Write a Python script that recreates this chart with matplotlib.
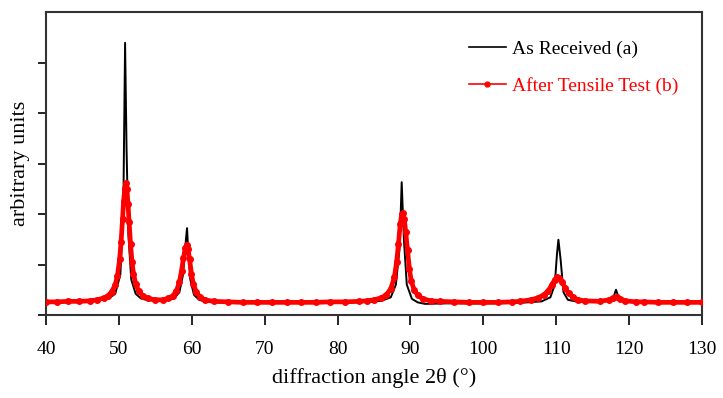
import numpy as np
import matplotlib.pyplot as plt
from matplotlib.lines import Line2D

'''
XRD pattern: as received vs after tensile test
'''

# As Received (a)
angle_a = [40, 45, 47, 48.5, 49.5, 50.2, 50.6, 50.85, 51.05, 51.3, 51.7, 52.3, 53, 54, 56,
           57.5, 58.3, 58.8, 59.2, 59.35, 59.5, 59.8, 60.3, 61, 62, 65, 70, 75, 80, 84, 86,
           87.3, 88.0, 88.5, 88.8, 89.1, 89.5, 90.2, 91, 92, 95, 100, 105, 108, 109.2, 109.8,
           110.1, 110.3, 110.6, 111, 111.6, 113, 116, 117.8, 118.2, 118.6, 120, 125, 130]
counts_a = [0.25, 0.26, 0.28, 0.32, 0.42, 0.8, 2.0, 5.39, 3.3, 1.6, 0.7, 0.42, 0.33, 0.29, 0.28,
            0.32, 0.45, 0.8, 1.5, 1.72, 1.3, 0.7, 0.4, 0.3, 0.26, 0.24, 0.24, 0.24, 0.25, 0.26, 0.28,
            0.35, 0.6, 1.3, 2.63, 1.5, 0.6, 0.32, 0.25, 0.22, 0.23, 0.23, 0.24, 0.27, 0.35, 0.6,
            1.2, 1.49, 1.1, 0.45, 0.3, 0.26, 0.27, 0.33, 0.5, 0.33, 0.26, 0.24, 0.24]

# After Tensile Test (b)
angle_b = [40, 41.5, 43, 44.5, 46, 47, 48, 48.5, 49, 49.5, 49.8, 50.1, 50.3, 50.5, 50.65,
           50.8, 50.95, 51.1, 51.25, 51.4, 51.6, 51.8, 52.0, 52.3, 52.7, 53.3, 54, 55, 56,
           56.8, 57.4, 57.9, 58.3, 58.6, 58.85, 59.1, 59.3, 59.5, 59.7, 59.95, 60.2, 60.6,
           61.1, 61.8, 63, 65, 67, 69, 71, 73, 75, 77, 79, 81, 83, 84, 85, 86, 86.7, 87.3,
           87.8, 88.1, 88.35, 88.6, 88.8, 88.95, 89.15, 89.35, 89.6, 89.85, 90.1, 90.5, 91,
           91.7, 92.8, 94, 96, 98, 100, 102, 104, 105, 106.5, 107.5, 108.3, 108.9, 109.4,
           109.8, 110.1, 110.4, 110.8, 111.2, 111.7, 112.3, 113, 114, 116, 117.2, 117.8,
           118.3, 118.8, 119.5, 121, 122, 124, 126, 128, 130]
counts_b = [0.26, 0.26, 0.27, 0.27, 0.28, 0.3, 0.34, 0.38, 0.46, 0.6, 0.78, 1.1, 1.45, 1.9,
            2.25, 2.5, 2.61, 2.5, 2.2, 1.85, 1.4, 1.05, 0.82, 0.62, 0.48, 0.38, 0.33, 0.3, 0.3,
            0.33, 0.38, 0.48, 0.65, 0.88, 1.12, 1.32, 1.39, 1.3, 1.1, 0.82, 0.62, 0.46,
            0.36, 0.3, 0.27, 0.26, 0.25, 0.25, 0.25, 0.25, 0.25, 0.25, 0.26, 0.26, 0.27, 0.28,
            0.3, 0.34, 0.4, 0.52, 0.75, 1.05, 1.4, 1.8, 2.0, 2.02, 1.9, 1.65, 1.28, 0.92, 0.68,
            0.5, 0.39, 0.32, 0.28, 0.27, 0.26, 0.25, 0.25, 0.25, 0.26, 0.27, 0.3, 0.34, 0.4,
            0.48, 0.6, 0.7, 0.75, 0.74, 0.66, 0.54, 0.43, 0.35, 0.3, 0.28, 0.27, 0.3, 0.34,
            0.36, 0.32, 0.28, 0.26, 0.26, 0.25, 0.25, 0.25, 0.25]

x_ticks = [40, 50, 60, 70, 80, 90, 100, 110, 120, 130]
labels = ['As Received (a)', 'After Tensile Test (b)']

plt.rcParams['font.family'] = ['Liberation Serif', 'DejaVu Serif']

fig = plt.figure(figsize=(7.23, 3.98), dpi=100)
ax = fig.add_axes([46 / 723, 1 - 315 / 398, (702 - 46) / 723, (315 - 12) / 398])

ax.plot(angle_a, counts_a, color='black', lw=1.4, zorder=2)
ax.plot(angle_b, counts_b, color='#ff0000', lw=3.4, marker='o', ms=4, zorder=3)

ax.set_xlim(40, 130)
ax.set_ylim(0, 6)
ax.set_xticks(x_ticks)
ax.set_yticks([0, 1, 2, 3, 4, 5])
ax.set_yticklabels([])
ax.tick_params(axis='x', direction='out', length=7, width=1.2, labelsize=14, pad=12)
ax.tick_params(axis='y', direction='out', length=6, width=1.2)
for s in ax.spines.values():
    s.set_linewidth(1.5)
    s.set_color('#333333')

ax.set_xlabel('diffraction angle 2θ (°)', fontsize=16, labelpad=7)
ax.set_ylabel('arbitrary units', fontsize=16, labelpad=2)

# thin legend handles like the original
handles = [Line2D([], [], color='black', lw=1.2),
           Line2D([], [], color='#ff0000', lw=1.2, marker='o', ms=3.5)]
leg = ax.legend(handles, labels, loc='upper right', bbox_to_anchor=(0.99, 0.965),
                frameon=False, fontsize=14, numpoints=1, handlelength=1.9,
                handletextpad=0.3, labelspacing=1.0)
leg.get_texts()[1].set_color('#ff0000')

plt.savefig('out.png', dpi=100)
